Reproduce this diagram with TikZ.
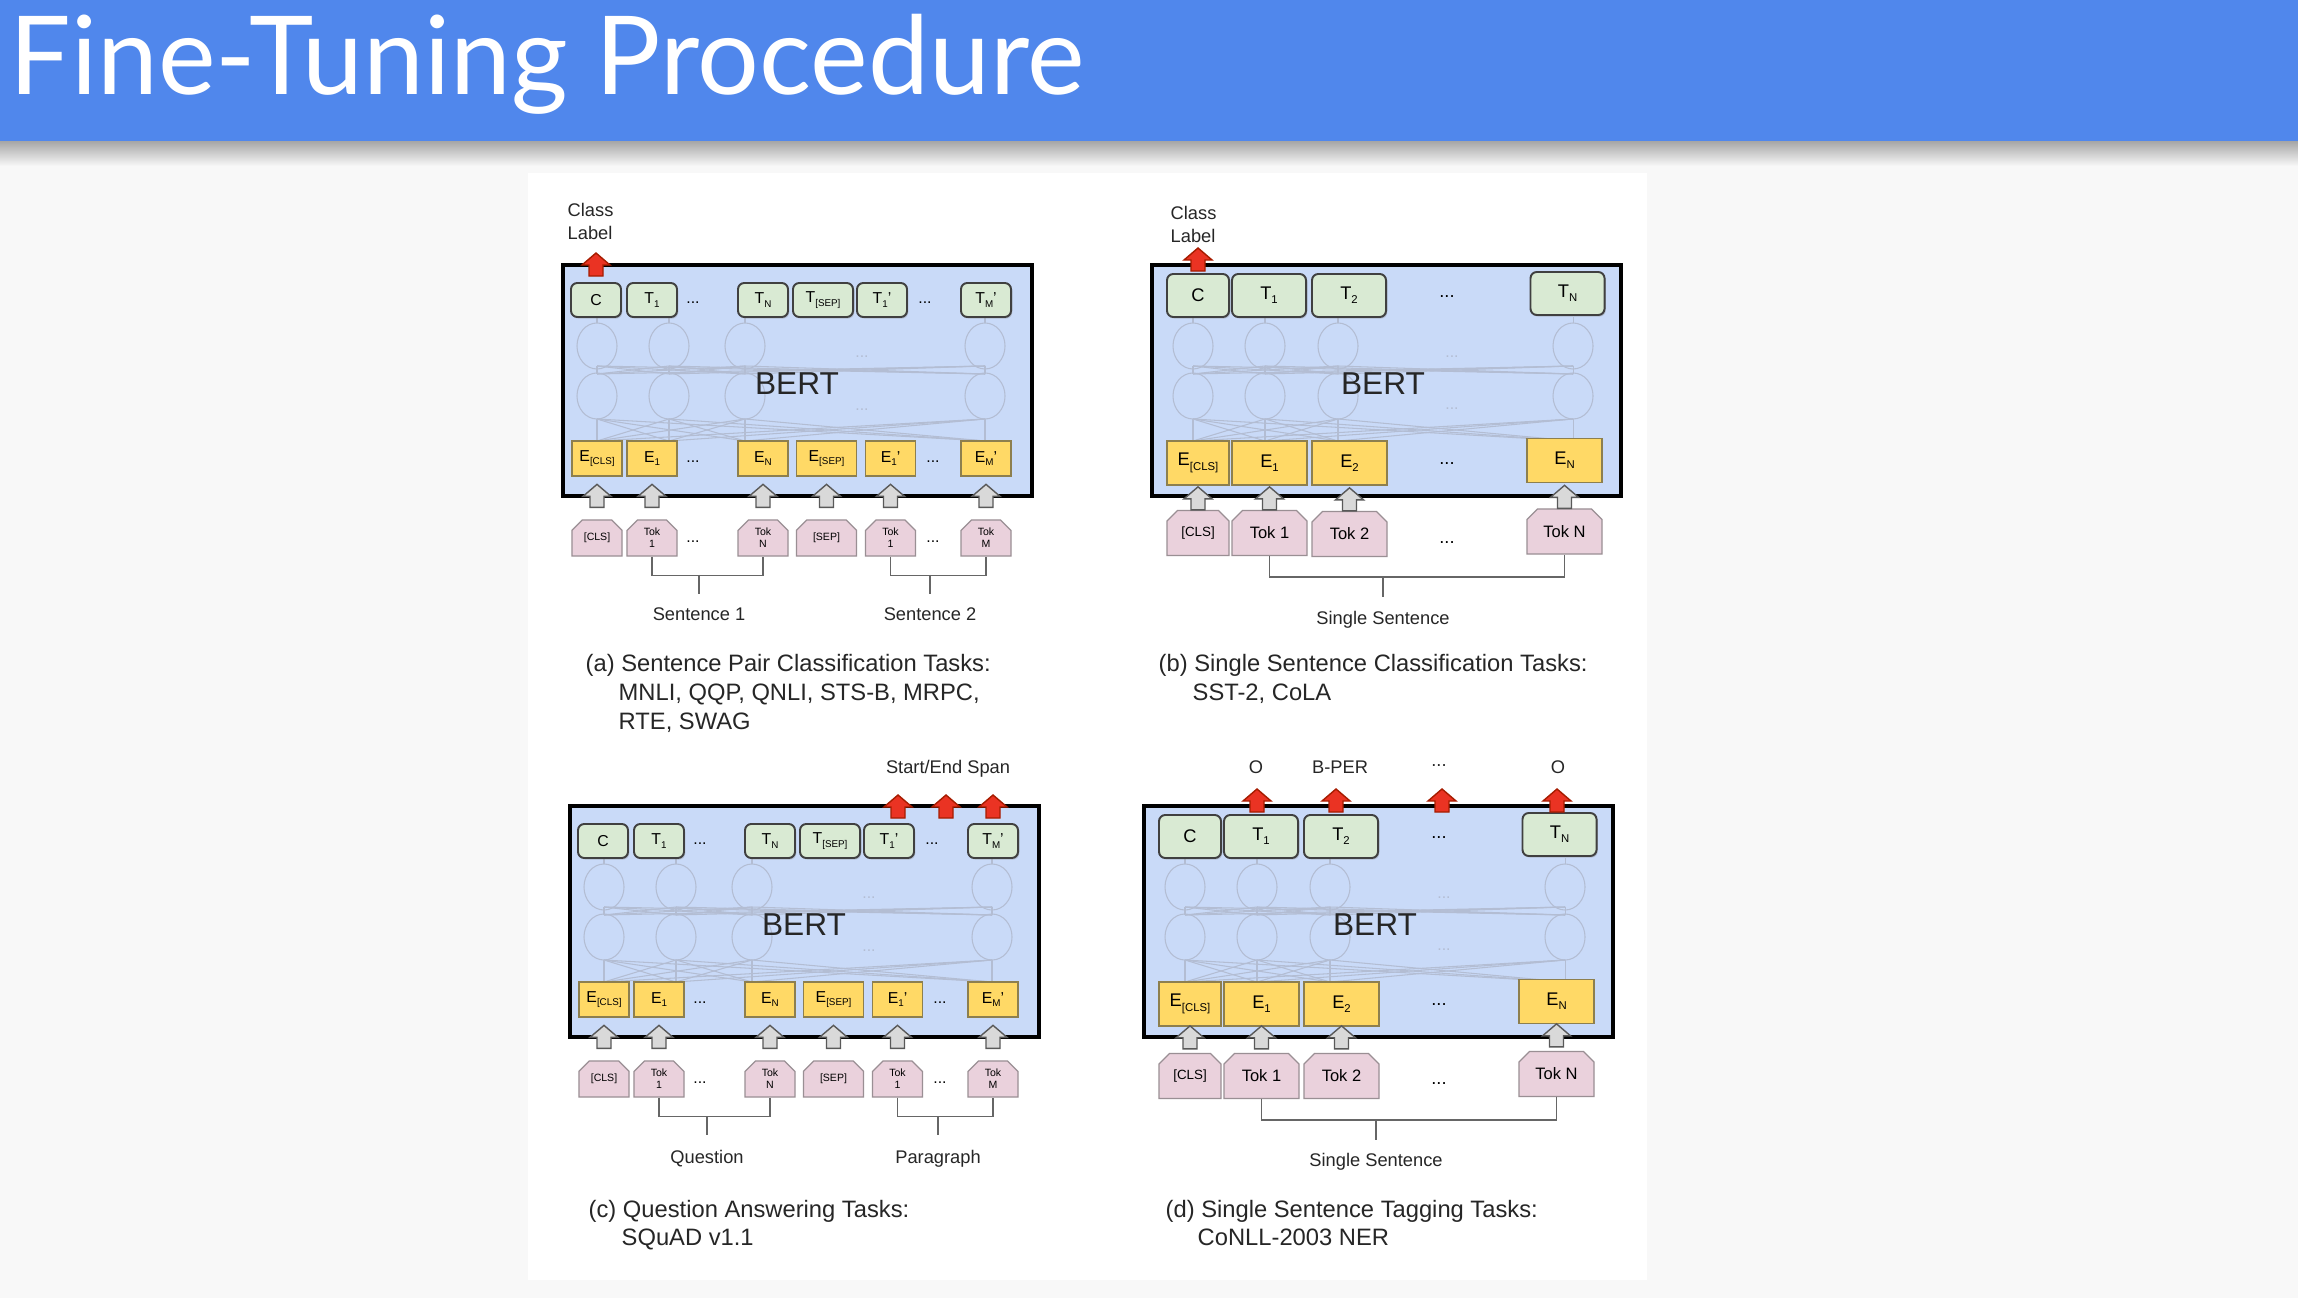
\documentclass[tikz,border=0pt]{standalone}
\usepackage{fontspec}
\setmainfont{Liberation Sans}
\newfontfamily\titlefont{Lato}
\usepackage{graphicx}
\usepackage{tikz}
\usetikzlibrary{positioning,shapes.misc,shadows}
\definecolor{SlideBlue}{HTML}{5087EC}
\definecolor{SlideGray}{HTML}{F8F8F8}
\definecolor{BertBlue}{HTML}{C9DAF8}
\definecolor{OutGreen}{HTML}{D9EAD3}
\definecolor{EmbYellow}{HTML}{FFD966}
\definecolor{EmbEdge}{HTML}{8D7F4E}
\definecolor{TokPink}{HTML}{EAD1DC}
\definecolor{TokEdge}{HTML}{9A8F94}
\definecolor{ArrowRed}{HTML}{EA3323}
\definecolor{ArrowRedEdge}{HTML}{A61C00}
\definecolor{ArrowGray}{HTML}{D9D9D9}
\definecolor{ArrowGrayEdge}{HTML}{595959}
\definecolor{NetLine}{HTML}{B3BDD3}
\definecolor{BracketGray}{HTML}{666666}
\newcommand{\sbs}[1]{\raisebox{-0.45ex}{\scalebox{0.62}{#1}}}
\tikzset{
  bertbox/.style={draw=black,line width=1.1pt,fill=BertBlue,inner sep=0pt},
  bertlbl/.style={font=\fontsize{9}{11}\selectfont,text=black!85,inner sep=0pt},
  netline/.style={draw=NetLine,line width=0.3pt},
  netdots/.style={text=NetLine,font=\fontsize{4.5}{5}\selectfont,inner sep=0pt},
  outnode/.style={draw=black!75,line width=0.55pt,fill=OutGreen,rounded corners=1.8pt,
    inner sep=0pt,drop shadow={shadow xshift=0.35pt,shadow yshift=-0.45pt,opacity=0.35}},
  embnode/.style={draw=EmbEdge,line width=0.35pt,fill=EmbYellow,inner sep=0pt},
  toknode/.style={chamfered rectangle,chamfered rectangle corners={north west,north east},
    chamfered rectangle sep=1.5pt,draw=TokEdge,line width=0.35pt,fill=TokPink,
    inner sep=0pt,align=center},
  tA/.style={outnode,minimum width=0.5cm,minimum height=0.34cm,font=\fontsize{4.5}{5}\selectfont},
  eA/.style={embnode,minimum width=0.5cm,minimum height=0.35cm,font=\fontsize{4.5}{5}\selectfont},
  kA/.style={toknode,minimum width=0.5cm,minimum height=0.36cm,font=\fontsize{3}{3.4}\selectfont},
  tB/.style={outnode,minimum width=0.74cm,minimum height=0.43cm,font=\fontsize{5.2}{6}\selectfont},
  eB/.style={embnode,minimum width=0.75cm,minimum height=0.44cm,font=\fontsize{5.2}{6}\selectfont},
  kB/.style={toknode,minimum width=0.75cm,minimum height=0.45cm,font=\fontsize{4.7}{5.5}\selectfont},
  sepwide/.style={minimum width=0.6cm},
  clswide/.style={minimum width=0.62cm},
  dotsA/.style={font=\fontsize{4.5}{5}\selectfont,inner sep=0pt},
  dotsB/.style={font=\fontsize{5.2}{6}\selectfont,inner sep=0pt},
  smalltxt/.style={font=\fontsize{5.2}{6.3}\selectfont,text=black!85,inner sep=0pt},
  captxt/.style={font=\fontsize{6.75}{8}\selectfont,text=black!85,inner sep=0pt,anchor=base west},
  bracket/.style={draw=BracketGray,line width=0.45pt},
  redup/.style={draw=ArrowRedEdge,fill=ArrowRed,line width=0.4pt},
  grayup/.style={draw=ArrowGrayEdge,fill=ArrowGray,line width=0.4pt},
  blockup/.pic={\path[pic actions] (-7,0) -- (-7,-11) -- (-14,-11) -- (0,-23) -- (14,-11) -- (7,-11) -- (7,0) -- cycle;},
}

\begin{document}
\begin{tikzpicture}[x=0.01cm,y=-0.01cm]
  \useasboundingbox (0,0) rectangle (2298,1298);
  \fill[SlideGray] (0,0) rectangle (2298,1298);
  \fill[white] (528,173) rectangle (1647,1280);
  \shade[top color=black!35,bottom color=SlideGray] (0,141) rectangle (2298,166);
  \fill[SlideBlue] (0,0) rectangle (2298,141);
  \node[anchor=base west,inner sep=0pt,text=white,font=\titlefont\fontsize{31}{37}\selectfont] (title) at (9,95) {Fine-Tuning Procedure};

  \begin{scope}
    \node[bertbox,minimum width=4.69cm,minimum height=2.31cm] (aBox) at (797.5,380.5) {};
    \foreach \xa in {597,669,745,985} {
      \draw[netline] (\xa,346) ellipse (0.2cm and 0.23cm);
      \draw[netline] (\xa,396) ellipse (0.2cm and 0.23cm);
      \draw[netline] (\xa,441) -- (\xa,419) (\xa,373) -- (\xa,369) (\xa,323) -- (\xa,317);
      \foreach \xb in {597,669,745,985}
        \draw[netline] (\xa,441) -- (\xb,419) (\xa,374) -- (\xb,366);
    }
    \node[netdots] (aNd1) at (862,357) {...};
    \node[netdots] (aNd2) at (862,410) {...};
    \node[bertlbl] (aBert) at (797,384) {BERT};
    \node[tA] (aC) at (596,300) {C};
    \node[tA] (aT1) at (652,300) {T\sbs{1}};
    \node[dotsA] (aTd1) at (693,303) {...};
    \node[tA] (aTN) at (763,300) {T\sbs{N}};
    \node[tA,sepwide] (aTsep) at (823,300) {T\sbs{[SEP]}};
    \node[tA] (aT1p) at (882,300) {T\sbs{1}'};
    \node[dotsA] (aTd2) at (925,303) {...};
    \node[tA] (aTMp) at (986,300) {T\sbs{M}'};
    \node[eA] (aEcls) at (597,458.5) {E\sbs{[CLS]}};
    \node[eA] (aE1) at (652,458.5) {E\sbs{1}};
    \node[dotsA] (aEd1) at (693,462) {...};
    \node[eA] (aEN) at (763,458.5) {E\sbs{N}};
    \node[eA,sepwide] (aEsep) at (826.5,458.5) {E\sbs{[SEP]}};
    \node[eA] (aE1p) at (890.5,458.5) {E\sbs{1}'};
    \node[dotsA] (aEd2) at (933,462) {...};
    \node[eA] (aEMp) at (986,458.5) {E\sbs{M}'};
    \node[kA] (aKcls) at (597,538) {[CLS]};
    \node[kA] (aK1) at (652,538) {Tok\\1};
    \node[dotsA] (aKd1) at (693,542) {...};
    \node[kA] (aKN) at (763,538) {Tok\\N};
    \node[kA,sepwide] (aKsep) at (826.5,538) {[SEP]};
    \node[kA] (aK1p) at (890.5,538) {Tok\\1};
    \node[dotsA] (aKd2) at (933,542) {...};
    \node[kA] (aKM) at (986,538) {Tok\\M};
    \pic[grayup] at ([yshift=0.12cm]aKcls.north) {blockup};
    \pic[grayup] at ([yshift=0.12cm]aK1.north) {blockup};
    \pic[grayup] at ([yshift=0.12cm]aKN.north) {blockup};
    \pic[grayup] at ([yshift=0.12cm]aKsep.north) {blockup};
    \pic[grayup] at ([yshift=0.12cm]aK1p.north) {blockup};
    \pic[grayup] at ([yshift=0.12cm]aKM.north) {blockup};
    \pic[redup] at ([yshift=0.06cm]aC.north) {blockup};
    \node[smalltxt,align=left,anchor=north west] (aClass) at (567,203) {Class\\Label};
    \draw[bracket] (aK1.south) -- ++(0,19) -| (aKN.south);
    \draw[bracket] (aK1p.south) -- ++(0,19) -| (aKM.south);
    \coordinate (aS1) at (699,575);
    \coordinate (aS2) at (930,575);
    \draw[bracket] (aS1) -- ++(0,19);
    \draw[bracket] (aS2) -- ++(0,19);
    \node[smalltxt,anchor=base] (aSent1) at (699,621) {Sentence 1};
    \node[smalltxt,anchor=base] (aSent2) at (930,621) {Sentence 2};
  \end{scope}

  \begin{scope}
    \node[bertbox,minimum width=4.69cm,minimum height=2.31cm] (bBox) at (1386.5,380.5) {};
    \foreach \xa in {1193,1265,1338,1573} {
      \draw[netline] (\xa,346) ellipse (0.2cm and 0.23cm);
      \draw[netline] (\xa,396) ellipse (0.2cm and 0.23cm);
      \draw[netline] (\xa,441) -- (\xa,419) (\xa,373) -- (\xa,369) (\xa,323) -- (\xa,317);
      \foreach \xb in {1193,1265,1338,1573}
        \draw[netline] (\xa,441) -- (\xb,419) (\xa,374) -- (\xb,366);
    }
    \node[netdots] (bNd1) at (1452,357) {...};
    \node[netdots] (bNd2) at (1452,409) {...};
    \node[bertlbl] (bBert) at (1383,384) {BERT};
    \node[tB,clswide] (bC) at (1198,295.5) {C};
    \node[tB] (bT1) at (1269,295.5) {T\sbs{1}};
    \node[tB] (bT2) at (1349,295.5) {T\sbs{2}};
    \node[dotsB] (bTd) at (1447,297) {...};
    \node[tB] (bTN) at (1567.5,293.5) {T\sbs{N}};
    \node[eB,clswide] (bEcls) at (1198,463) {E\sbs{[CLS]}};
    \node[eB] (bE1) at (1269.5,463) {E\sbs{1}};
    \node[eB] (bE2) at (1349.5,463) {E\sbs{2}};
    \node[dotsB] (bEd) at (1447,464) {...};
    \node[eB] (bEN) at (1564.5,460.5) {E\sbs{N}};
    \node[kB,clswide] (bKcls) at (1198,533) {\fontsize{3.8}{4.5}\selectfont[CLS]};
    \node[kB] (bK1) at (1269.5,533) {Tok 1};
    \node[kB] (bK2) at (1349.5,534) {Tok 2};
    \node[dotsB] (bKd) at (1447,543) {...};
    \node[kB] (bKN) at (1564.5,531.5) {Tok N};
    \pic[grayup] at (bKcls.north) {blockup};
    \pic[grayup] at (bK1.north) {blockup};
    \pic[grayup] at (bK2.north) {blockup};
    \pic[grayup] at (bKN.north) {blockup};
    \pic[redup] at ([yshift=0.02cm]bC.north) {blockup};
    \node[smalltxt,align=left,anchor=north west] (bClass) at (1170,206) {Class\\Label};
    \draw[bracket] (bK1.south) -- ++(0,21) -| (bKN.south);
    \coordinate (bS1) at (1383,577);
    \draw[bracket] (bS1) -- ++(0,20);
    \node[smalltxt,anchor=base] (bSent) at (1383,625) {Single Sentence};
  \end{scope}

  \begin{scope}[shift={(7,541)}]
    \node[bertbox,minimum width=4.69cm,minimum height=2.31cm] (cBox) at (797.5,380.5) {};
    \foreach \xa in {597,669,745,985} {
      \draw[netline] (\xa,346) ellipse (0.2cm and 0.23cm);
      \draw[netline] (\xa,396) ellipse (0.2cm and 0.23cm);
      \draw[netline] (\xa,441) -- (\xa,419) (\xa,373) -- (\xa,369) (\xa,323) -- (\xa,317);
      \foreach \xb in {597,669,745,985}
        \draw[netline] (\xa,441) -- (\xb,419) (\xa,374) -- (\xb,366);
    }
    \node[netdots] (cNd1) at (862,357) {...};
    \node[netdots] (cNd2) at (862,410) {...};
    \node[bertlbl] (cBert) at (797,384) {BERT};
    \node[tA] (cC) at (596,300) {C};
    \node[tA] (cT1) at (652,300) {T\sbs{1}};
    \node[dotsA] (cTd1) at (693,303) {...};
    \node[tA] (cTN) at (763,300) {T\sbs{N}};
    \node[tA,sepwide] (cTsep) at (823,300) {T\sbs{[SEP]}};
    \node[tA] (cT1p) at (882,300) {T\sbs{1}'};
    \node[dotsA] (cTd2) at (925,303) {...};
    \node[tA] (cTMp) at (986,300) {T\sbs{M}'};
    \node[eA] (cEcls) at (597,458.5) {E\sbs{[CLS]}};
    \node[eA] (cE1) at (652,458.5) {E\sbs{1}};
    \node[dotsA] (cEd1) at (693,462) {...};
    \node[eA] (cEN) at (763,458.5) {E\sbs{N}};
    \node[eA,sepwide] (cEsep) at (826.5,458.5) {E\sbs{[SEP]}};
    \node[eA] (cE1p) at (890.5,458.5) {E\sbs{1}'};
    \node[dotsA] (cEd2) at (933,462) {...};
    \node[eA] (cEMp) at (986,458.5) {E\sbs{M}'};
    \node[kA] (cKcls) at (597,538) {[CLS]};
    \node[kA] (cK1) at (652,538) {Tok\\1};
    \node[dotsA] (cKd1) at (693,542) {...};
    \node[kA] (cKN) at (763,538) {Tok\\N};
    \node[kA,sepwide] (cKsep) at (826.5,538) {[SEP]};
    \node[kA] (cK1p) at (890.5,538) {Tok\\1};
    \node[dotsA] (cKd2) at (933,542) {...};
    \node[kA] (cKM) at (986,538) {Tok\\M};
    \pic[grayup] at ([yshift=0.12cm]cKcls.north) {blockup};
    \pic[grayup] at ([yshift=0.12cm]cK1.north) {blockup};
    \pic[grayup] at ([yshift=0.12cm]cKN.north) {blockup};
    \pic[grayup] at ([yshift=0.12cm]cKsep.north) {blockup};
    \pic[grayup] at ([yshift=0.12cm]cK1p.north) {blockup};
    \pic[grayup] at ([yshift=0.12cm]cKM.north) {blockup};
    \pic[redup] at (891,277) {blockup};
    \pic[redup] at (939,277) {blockup};
    \pic[redup] at (986,277) {blockup};
    \node[smalltxt,anchor=base] (cSpan) at (941,233) {Start/End Span};
    \draw[bracket] (cK1.south) -- ++(0,19) -| (cKN.south);
    \draw[bracket] (cK1p.south) -- ++(0,19) -| (cKM.south);
    \coordinate (cS1) at (700,575);
    \coordinate (cS2) at (931,575);
    \draw[bracket] (cS1) -- ++(0,19);
    \draw[bracket] (cS2) -- ++(0,19);
    \node[smalltxt,anchor=base] (cQues) at (700,622) {Question};
    \node[smalltxt,anchor=base] (cPara) at (931,622) {Paragraph};
  \end{scope}

  \begin{scope}[shift={(-8,541)}]
    \node[bertbox,minimum width=4.69cm,minimum height=2.31cm] (dBox) at (1386.5,380.5) {};
    \foreach \xa in {1193,1265,1338,1573} {
      \draw[netline] (\xa,346) ellipse (0.2cm and 0.23cm);
      \draw[netline] (\xa,396) ellipse (0.2cm and 0.23cm);
      \draw[netline] (\xa,441) -- (\xa,419) (\xa,373) -- (\xa,369) (\xa,323) -- (\xa,317);
      \foreach \xb in {1193,1265,1338,1573}
        \draw[netline] (\xa,441) -- (\xb,419) (\xa,374) -- (\xb,366);
    }
    \node[netdots] (dNd1) at (1452,357) {...};
    \node[netdots] (dNd2) at (1452,409) {...};
    \node[bertlbl] (dBert) at (1383,384) {BERT};
    \node[tB,clswide] (dC) at (1198,295.5) {C};
    \node[tB] (dT1) at (1269,295.5) {T\sbs{1}};
    \node[tB] (dT2) at (1349,295.5) {T\sbs{2}};
    \node[dotsB] (dTd) at (1447,297) {...};
    \node[tB] (dTN) at (1567.5,293.5) {T\sbs{N}};
    \node[eB,clswide] (dEcls) at (1198,463) {E\sbs{[CLS]}};
    \node[eB] (dE1) at (1269.5,463) {E\sbs{1}};
    \node[eB] (dE2) at (1349.5,463) {E\sbs{2}};
    \node[dotsB] (dEd) at (1447,464) {...};
    \node[eB] (dEN) at (1564.5,460.5) {E\sbs{N}};
    \node[kB,clswide] (dKcls) at (1198,535) {\fontsize{3.8}{4.5}\selectfont[CLS]};
    \node[kB] (dK1) at (1269.5,535) {Tok 1};
    \node[kB] (dK2) at (1349.5,535) {Tok 2};
    \node[dotsB] (dKd) at (1447,543) {...};
    \node[kB] (dKN) at (1564.5,533) {Tok N};
    \pic[grayup] at ([yshift=0.04cm]dKcls.north) {blockup};
    \pic[grayup] at ([yshift=0.04cm]dK1.north) {blockup};
    \pic[grayup] at ([yshift=0.04cm]dK2.north) {blockup};
    \pic[grayup] at ([yshift=0.04cm]dKN.north) {blockup};
    \pic[redup] at (1265,271) {blockup};
    \pic[redup] at (1344,271) {blockup};
    \pic[redup] at (1450,271) {blockup};
    \pic[redup] at (1565,271) {blockup};
    \node[smalltxt,anchor=base] (dTag1) at (1264,233) {O};
    \node[smalltxt,anchor=base] (dTag2) at (1348,233) {B-PER};
    \node[smalltxt,anchor=base] (dTag3) at (1447,225) {...};
    \node[smalltxt,anchor=base] (dTag4) at (1566,233) {O};
    \draw[bracket] (dK1.south) -- ++(0,21) -| (dKN.south);
    \coordinate (dS1) at (1384,579);
    \draw[bracket] (dS1) -- ++(0,20);
    \node[smalltxt,anchor=base] (dSent) at (1384,625) {Single Sentence};
  \end{scope}

  \node[captxt] (capA1) at (585,672) {(a) Sentence Pair Classification Tasks:};
  \node[captxt] (capA2) at (618,701) {MNLI, QQP, QNLI, STS-B, MRPC,};
  \node[captxt] (capA3) at (618,729) {RTE, SWAG};
  \node[captxt] (capB1) at (1158,672) {(b) Single Sentence Classification Tasks:};
  \node[captxt] (capB2) at (1192,701) {SST-2, CoLA};
  \node[captxt] (capC1) at (588,1217) {(c) Question Answering Tasks:};
  \node[captxt] (capC2) at (621,1245) {SQuAD v1.1};
  \node[captxt] (capD1) at (1165,1217) {(d) Single Sentence Tagging Tasks:};
  \node[captxt] (capD2) at (1197,1245) {CoNLL-2003 NER};
\end{tikzpicture}
\end{document}
